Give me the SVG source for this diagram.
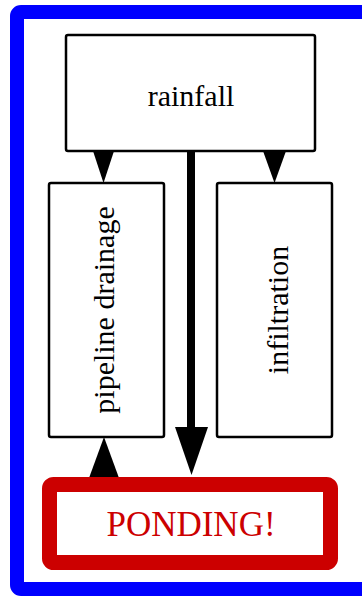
<svg xmlns="http://www.w3.org/2000/svg" width="362" height="596" viewBox="0 0 362 596">
  <style>
    .box { fill: #ffffff; stroke: #000000; stroke-width: 2.5; }
    .label { font-family: "Liberation Serif", "Times New Roman", serif; font-size: 30px; fill: #000000; text-anchor: middle; }
    .alarm { font-family: "Liberation Serif", "Times New Roman", serif; font-size: 35px; fill: #cc0000; text-anchor: middle; }
    .head { fill: #000000; stroke: none; }
  </style>

  <!-- outer frame -->
  <rect id="frame" x="0" y="0" width="362" height="596" fill="#ffffff"/>
  <rect x="17" y="12" width="352" height="577" rx="4" fill="#ffffff" stroke="#0000ff" stroke-width="14"/>

  <!-- connectors -->
  <g id="connectors">
    <!-- rainfall -> pipeline drainage -->
    <polygon class="head" points="93,151 114,151 103.5,183"/>
    <!-- rainfall -> infiltration -->
    <polygon class="head" points="263,151 286,151 274.5,183"/>
    <!-- rainfall -> PONDING! (heavy) -->
    <line x1="191" y1="151" x2="191" y2="428" stroke="#000000" stroke-width="8"/>
    <polygon class="head" points="175,427 208,427 191.5,475"/>
    <!-- PONDING! -> pipeline drainage -->
    <polygon class="head" points="89,478 119,478 104,437"/>
  </g>

  <g id="rainfall">
    <rect class="box" x="66" y="35" width="249" height="116" rx="2"/>
    <text class="label" x="191" y="106">rainfall</text>
  </g>

  <g id="pipeline_drainage">
    <rect class="box" x="49" y="183" width="115" height="254" rx="2"/>
    <text class="label" transform="translate(114,310) rotate(-90)">pipeline drainage</text>
  </g>

  <g id="infiltration">
    <rect class="box" x="217" y="183" width="115" height="254" rx="2"/>
    <text class="label" transform="translate(288,310) rotate(-90)">infiltration</text>
  </g>

  <g id="ponding">
    <rect x="49.5" y="484.5" width="281" height="78" rx="4" fill="#ffffff" stroke="#cc0000" stroke-width="15"/>
    <text class="alarm" x="191" y="536">PONDING!</text>
  </g>
</svg>
